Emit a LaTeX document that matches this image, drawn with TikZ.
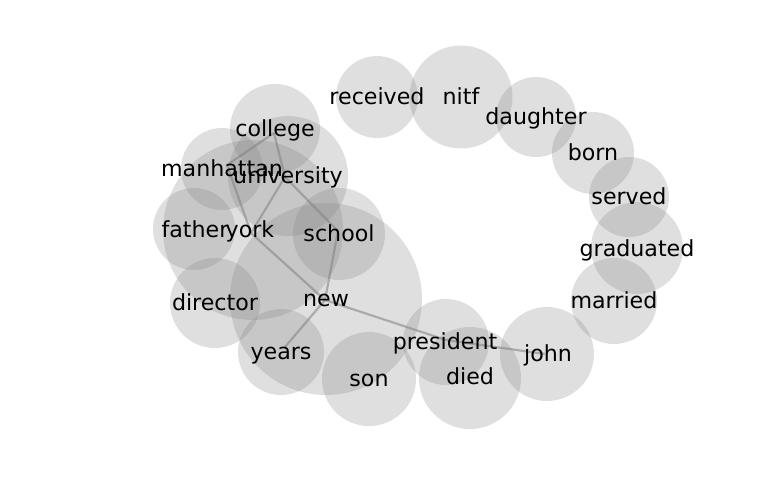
\documentclass[tikz,border=0pt]{standalone}
\usepackage{fontspec}
\setmainfont{DejaVu Sans}
\begin{document}
\begin{tikzpicture}[x=0.01in,y=-0.01in,
  blob/.style={fill=gray,fill opacity=0.25,draw=none},
  word/.style={font=\fontsize{16pt}{19pt}\selectfont,inner sep=0pt,text=black,anchor=base},
  link/.style={draw=gray,draw opacity=0.55,line width=1.6pt}]
\useasboundingbox (0,0) rectangle (768,500);
% circles
\foreach \x/\y/\r in {377/97/41, 461/97/51.5, 536/117/40, 593/153/41, 629/197/40,
  637/248/46, 614/301/43, 547/354/47, 470/378/51, 446/342/43, 369/379/47,
  281/352/43, 326/299/96, 215/303/45, 194/229/41, 253/230/90, 222/169/41,
  288/176/60, 275/129/45, 339/234/46}
  \fill[blob] (\x,\y) circle[radius=\r];
% anchor coordinates
\coordinate (pcollege) at (274,133);
\coordinate (pmanhattan) at (227,165);
\coordinate (puniversity) at (285,177);
\coordinate (pyork) at (251,233);
\coordinate (pschool) at (338,231);
\coordinate (pnew) at (325,300);
\coordinate (pyears) at (285,347);
\coordinate (ppresident) at (446,340);
\coordinate (pjohn) at (545,354);
% links
\draw[link] (pcollege) -- (pmanhattan);
\draw[link] (pmanhattan) -- (pyork);
\draw[link] (pcollege) -- (puniversity);
\draw[link] (puniversity) -- (pschool);
\draw[link] (puniversity) -- (pyork);
\draw[link] (pschool) -- (pnew);
\draw[link] (pyork) -- (pnew);
\draw[link] (pnew) -- (pyears);
\draw[link] (pnew) -- (ppresident);
\draw[link] (ppresident) -- (pjohn);
% words (baseline about 7.5px below each circle centre)
\node[word] (received) at (377,104.5) {received};
\node[word] (nitf) at (461,104.5) {nitf};
\node[word] (daughter) at (536,124.5) {daughter};
\node[word] (born) at (593,160.5) {born};
\node[word] (served) at (629,204.5) {served};
\node[word] (graduated) at (637,256) {graduated};
\node[word] (married) at (614,308.5) {married};
\node[word] (john) at (548,361.5) {john};
\node[word] (died) at (470,384.5) {died};
\node[word] (president) at (445,349.5) {president};
\node[word] (son) at (369,386.5) {son};
\node[word] (years) at (281,359.5) {years};
\node[word] (new) at (326,306.5) {new};
\node[word] (director) at (215,310.5) {director};
\node[word] (father) at (195,237) {father};
\node[word] (york) at (250,237) {york};
\node[word] (manhattan) at (222,176.5) {manhattan};
\node[word] (university) at (288,183.5) {university};
\node[word] (college) at (275,136) {college};
\node[word] (school) at (339,241.5) {school};
\end{tikzpicture}
\end{document}
